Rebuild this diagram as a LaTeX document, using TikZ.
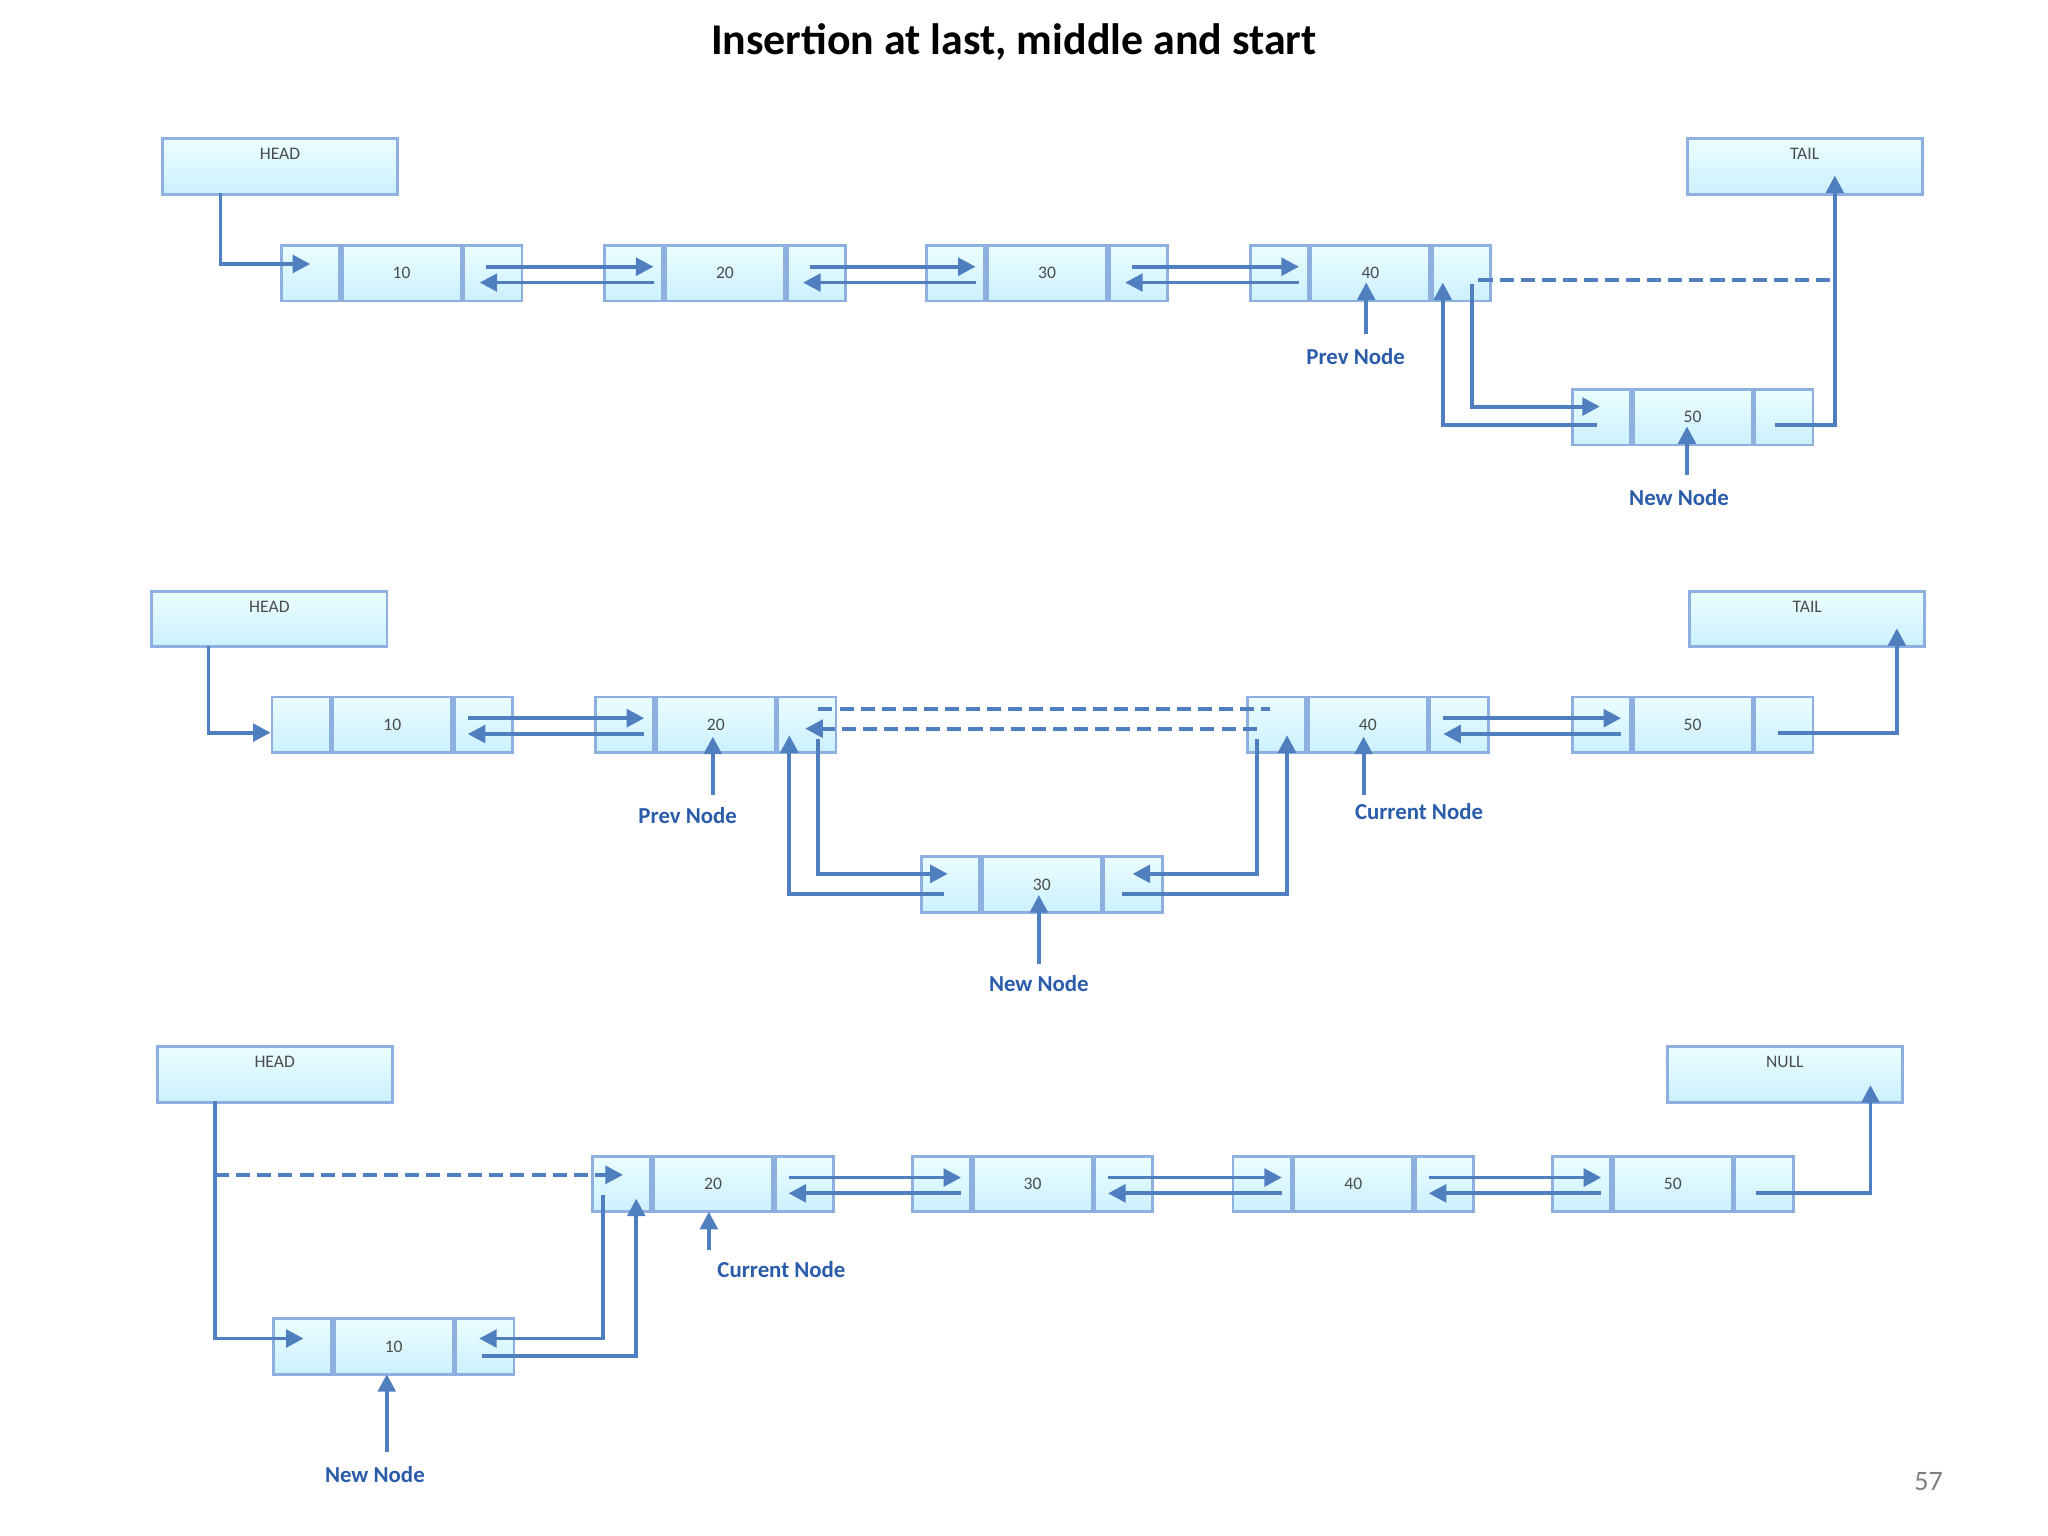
\documentclass[tikz,border=0pt]{standalone}
\usepackage{fontspec}
\setmainfont{Carlito}
\usetikzlibrary{arrows.meta,calc}
\definecolor{ln}{HTML}{4F7FBF}
\definecolor{lb}{HTML}{2A5CAA}
\definecolor{bd}{HTML}{8EB0E0}
\tikzset{
 cell/.style={draw=bd,line width=0.8pt,top color=blue!6!cyan!8!white,bottom color=blue!30!cyan!20!white,minimum height=0.554cm,inner sep=0pt,anchor=north west,font=\fontsize{5}{6}\selectfont,text=black!70},
 lbl/.style={draw=bd,line width=0.8pt,top color=blue!6!cyan!8!white,bottom color=blue!30!cyan!20!white,minimum height=0.554cm,minimum width=2.35cm,inner sep=0pt,anchor=north west,font=\fontsize{5}{6}\selectfont,text=black!70,text depth=0.25cm},
 ar/.style={draw=ln,line width=1.1pt,-{Triangle[width=5pt,length=5pt]}},
 ds/.style={draw=ln,line width=1.1pt,dash pattern=on 4pt off 2pt},
 tag/.style={font=\bfseries\fontsize{6.5}{7}\selectfont,text=lb},
}
\newcommand{\dll}[4]{%
 \node[cell,minimum width=0.581cm] (#1l) at (#2,#3) {};
 \node[cell,minimum width=1.188cm] (#1m) at (#1l.north east) {#4};
 \node[cell,minimum width=0.581cm] (#1r) at (#1m.north east) {};}
\begin{document}
\begin{tikzpicture}[x=0.0132cm,y=-0.0132cm]
\path[use as bounding box,fill=white] (0,0) rectangle (1551.5,1163.6);
\node[font=\bfseries\fontsize{12.5}{14}\selectfont] (title) at (768,32) {Insertion at last, middle and start};
\node[text=black!50,font=\fontsize{8}{9}\selectfont] (pg) at (1461,1122) {57};
% ---------- row 1
\node[lbl] (h1) at (122,104) {HEAD};
\node[lbl] (t1) at (1277,104) {TAIL};
\dll{a}{212}{185}{10}\dll{b}{457}{185}{20}\dll{c}{701}{185}{30}\dll{d}{946}{185}{40}\dll{e}{1190}{294}{50}
\draw[ar] (167,146) -- (167,200) -- (235,200);
\foreach \p/\q in {a/b,b/c,c/d}{
 \draw[ar] ($(\p r.center)+(-5,-5)$) -- ($(\q l.center)+(15,-5)$);
 \draw[ar] ($(\q l.center)+(15,7)$) -- ($(\p r.center)+(-10,7)$);}
\draw[ds] (1120,212) -- (1390,212);
\draw[ar] (1345,322) -- (1390,322) -- (1390,133);
\draw[ar] (1210,322) -- (1093,322) -- (1093,214);
\draw[ar] (1115,215) -- (1115,308) -- (1212,308);
\node[tag] (pn1) at (1027,270) {Prev Node};
\draw[ar] (1035,253) -- (1035,214);
\node[tag] (nn1) at (1272,377) {New Node};
\draw[ar] (1278,360) -- (1278,323);
% ---------- row 2
\node[lbl] (h2) at (114,447) {HEAD};
\node[lbl] (t2) at (1279,447) {TAIL};
\dll{f}{205}{527}{10}\dll{g}{450}{527}{20}\dll{i}{944}{527}{40}\dll{j}{1190}{527}{50}\dll{k}{697}{648}{30}
\draw[ar] (158,489) -- (158,555) -- (205,555);
\foreach \p/\q in {f/g,i/j}{
 \draw[ar] ($(\p r.center)+(-12,-5)$) -- ($(\q l.center)+(15,-5)$);
 \draw[ar] ($(\q l.center)+(15,7)$) -- ($(\p r.center)+(-12,7)$);}
\draw[ds] (620,537) -- (962,537);
\draw[ds,-{Triangle[width=5pt,length=5pt]}] (952,552) -- (610,552);
\draw[ar] (1347,555) -- (1437,555) -- (1437,476);
\draw[ar] (715,677) -- (598,677) -- (598,557);
\draw[ar] (620,560) -- (620,662) -- (718,662);
\draw[ar] (952,560) -- (952,662) -- (858,662);
\draw[ar] (850,677) -- (975,677) -- (975,557);
\node[tag] (pn2) at (521,618) {Prev Node};
\draw[ar] (540,602) -- (540,558);
\node[tag] (cn2) at (1075,615) {Current Node};
\draw[ar] (1033,602) -- (1033,558);
\node[tag] (nn2) at (787,745) {New Node};
\draw[ar] (787,730) -- (787,678);
% ---------- row 3
\node[lbl] (h3) at (118,792) {HEAD};
\node[lbl] (t3) at (1262,792) {NULL};
\dll{m}{448}{875}{20}\dll{n}{690}{875}{30}\dll{o}{933}{875}{40}\dll{p}{1175}{875}{50}\dll{q}{206}{998}{10}
\draw[ds,-{Triangle[width=5pt,length=5pt]}] (163,890) -- (472,890);
\draw[ar] (163,834) -- (163,1014) -- (230,1014);
\foreach \p/\q in {m/n,n/o,o/p}{
 \draw[ar] ($(\p r.center)+(-12,-5)$) -- ($(\q l.center)+(15,-5)$);
 \draw[ar] ($(\q l.center)+(15,7)$) -- ($(\p r.center)+(-12,7)$);}
\draw[ar] (457,905) -- (457,1014) -- (363,1014);
\draw[ar] (365,1027) -- (482,1027) -- (482,908);
\draw[ar] (1330,904) -- (1417,904) -- (1417,822);
\node[tag] (cn3) at (592,962) {Current Node};
\draw[ar] (537,947) -- (537,918);
\node[tag] (nn3) at (284,1117) {New Node};
\draw[ar] (293,1100) -- (293,1041);
\end{tikzpicture}
\end{document}
